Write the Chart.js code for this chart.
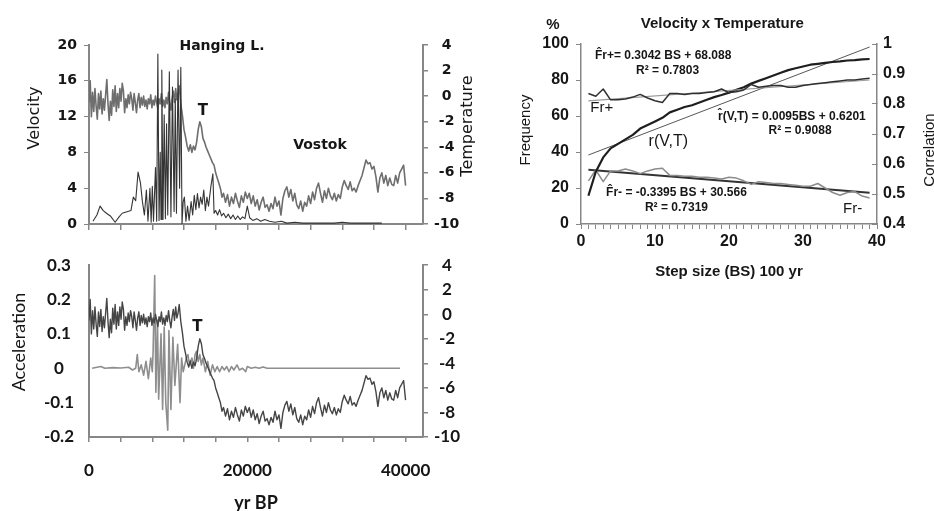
<!DOCTYPE html>
<html>
<head>
<meta charset="utf-8">
<script src="https://cdn.jsdelivr.net/npm/chart.js@4.4.1/dist/chart.umd.min.js"></script>
<style>
  html, body { margin: 0; padding: 0; background: #fff; width: 934px; height: 511px; overflow: hidden; }
  canvas { position: absolute; }
  #cA { left: 0; top: 0; }
  #cB { left: 0; top: 240px; }
  #cC { left: 520px; top: 0; }
</style>
</head>
<body>
<canvas id="cA" width="480" height="240"></canvas>
<canvas id="cB" width="480" height="271"></canvas>
<canvas id="cC" width="430" height="300"></canvas>
<script>
// --- temperature record (yr BP, deg C), split by period ---
const holoceneYears = [0,150,300,450,600,750,900,1050,1200,1350,1500,1650,1800,1950,2100,2250,2400,2550,2700,2850,3000,3150,3300,3450,3600,3750,3900,4050,4200,4350,4500,4650,4800,4950,5100,5250,5400,5550,5700,5850,6000,6150,6300,6450,6600,6750,6900,7050,7200,7350,7500,7650,7800,7950,8100,8250,8400,8550,8700,8850,9000,9150,9300,9450,9600,9750,9900,10050,10200,10350,10500,10650,10800,10950,11100,11250,11400];
const holoceneTemp = [-0.5,1.2,-1.6,0.3,-1.2,0.6,-0.8,-1.8,0.2,-1.0,0.4,-1.4,-0.2,-1.1,0.1,1.3,-0.6,-1.9,-0.4,-1.5,0.5,-0.8,0.8,-1.2,0.2,-0.9,0.6,-0.4,1.0,0.4,-1.3,-0.2,-0.9,0.1,-0.6,0.3,-0.2,-1.1,0.2,-0.5,-1.3,-0.3,0.2,-0.9,-0.1,-0.7,0.0,-0.8,-0.3,-1.0,-0.2,-0.6,0.1,-0.9,-0.3,-0.7,0.0,-0.5,-1.0,-0.2,-0.6,0.2,-0.8,-0.3,-0.9,-0.1,-0.6,0.3,-0.5,-1.1,-0.2,0.4,-0.5,0.6,-0.3,0.1,0.8];
const deglacYears = [11600,11800,12000,12200,12400,12600,12800,13000,13200,13400,13600,13800,14000,14200,14400,14600,14800,15000,15200,15400,15600,15800,16000,16200,16400,16600,16800,17000];
const deglacTemp = [-0.6,-1.5,-2.6,-3.2,-3.9,-4.3,-3.8,-4.4,-3.9,-4.2,-3.6,-2.6,-2.0,-2.4,-3.3,-3.6,-4.0,-4.3,-4.6,-4.9,-5.2,-5.4,-6.0,-6.4,-6.8,-7.2,-7.9,-7.6];
const glacialYears = [17250,17500,17750,18000,18250,18500,18750,19000,19250,19500,19750,20000,20250,20500,20750,21000,21250,21500,21750,22000,22250,22500,22750,23000,23250,23500,23750,24000,24250,24500,24750,25000,25250,25500,25750,26000,26250,26500,26750,27000,27250,27500,27750,28000,28250,28500,28750,29000,29250,29500,29750,30000,30250,30500,30750,31000,31250,31500,31750,32000,32250,32500,32750,33000,33250,33500,33750,34000,34250,34500,34750,35000,35250,35500,35750,36000,36250,36500,36750,37000,37250,37500,37750,38000,38250,38500,38750,39000,39250,39500,39750,40000];
const glacialTemp = [-8.3,-7.7,-8.6,-7.9,-8.4,-7.6,-8.2,-8.7,-7.8,-8.3,-7.5,-8.0,-7.6,-8.4,-7.8,-8.6,-8.1,-8.9,-8.3,-7.9,-8.7,-8.5,-9.0,-8.4,-8.8,-7.9,-8.6,-8.2,-9.3,-8.0,-7.4,-7.1,-7.9,-7.3,-8.2,-7.6,-8.5,-8.8,-8.2,-9.0,-8.3,-8.6,-7.8,-8.4,-7.5,-8.1,-7.2,-6.8,-7.6,-8.3,-7.4,-8.0,-7.2,-7.8,-8.1,-7.6,-8.2,-7.7,-8.0,-7.1,-6.6,-7.0,-7.3,-6.7,-7.4,-7.2,-7.5,-7.0,-6.6,-6.2,-5.6,-5.0,-5.3,-5.2,-5.7,-5.5,-6.3,-7.5,-6.4,-6.0,-6.8,-6.2,-7.0,-6.4,-6.9,-7.0,-6.2,-6.8,-6.0,-5.7,-5.4,-7.0];

// --- velocity (top panel, left axis) ---
const velYears = [500,1000,1400,1800,2200,2700,3300,3800,4200,4900,5300,5600,5900,6200,6500,6750,7000,7250,7450,7700,7850,8000,8150,8400,8550,8700,8850,9000,9100,9200,9350,9500,9650,9800,9950,10150,10350,10550,10750,10900,11050,11250,11450,11600,11750,11900,12050,12250,12450,12650,12900,13100,13300,13500,13700,13900,14100,14300,14500,14700,14900,15100,15400,15650,15800,16000,16250,16500,16750,17000,17300,17600,17900,18200,18500,18800,19100,19400,19700,20000,20300,20700,21200,21700,22200,22800,23500,24300,25000,26000,27000,28000,29000,30000,31000,32000,33000,34000,35000,36000,37000];
const velValues = [0.3,1.0,2.0,1.5,1.2,0.9,0.2,0.8,1.2,1.4,1.5,3.0,2.6,5.8,4.6,2.5,1.0,3.8,0.3,4.0,0.2,4.2,0.3,6.3,0.3,19.0,0.4,8.0,0.5,17.2,0.5,12.2,0.6,11.2,1.0,17.0,0.8,15.3,1.4,14.0,1.2,17.2,4.0,17.5,0.0,2.5,3.0,0.3,2.0,0.4,2.5,1.0,3.2,1.6,3.4,1.8,3.0,2.2,3.8,1.5,3.0,2.0,4.2,5.6,1.2,1.5,1.0,1.6,0.9,1.2,0.7,1.1,0.6,1.0,0.5,0.9,0.5,0.8,0.6,2.0,0.7,0.4,0.6,0.3,0.5,0.3,0.2,0.3,0.1,0.2,0.1,0.1,0.1,0.1,0.1,0.2,0.1,0.1,0.1,0.1,0.1];

// --- acceleration (bottom panel, left axis) ---
const accYears = [400,1000,1500,2000,3000,4000,5000,5500,5900,6100,6300,6600,6900,7200,7500,7800,8000,8100,8300,8450,8650,8800,9100,9300,9500,9700,9950,10100,10350,10600,10850,11200,11500,11700,11900,12100,12300,12500,12700,13000,13200,13400,13600,13800,14000,14200,14400,14700,15000,15300,15600,15900,16200,16500,16800,17100,17400,17700,18000,18300,18700,19000,19400,19800,20000,20500,21000,21500,22000,22500,39300];
const accValues = [0,0.003,0.005,0,0.002,0.001,0.003,-0.005,0,0.04,-0.01,0.01,-0.02,0.02,-0.03,0.03,-0.01,0.05,0.27,-0.07,0.14,-0.09,0.1,-0.12,0.12,-0.1,-0.18,0.11,-0.12,0.09,-0.05,0.07,-0.1,0.03,-0.01,0.01,0.03,0.04,0.01,0.03,0,0.04,0.05,0.02,0.04,0.01,0.03,-0.01,0.02,-0.02,0.01,-0.01,0.005,-0.01,0.005,-0.005,0.005,-0.01,0.005,-0.005,0.01,-0.005,0,-0.01,0.005,0,0.003,0,0.004,0,0];

// year axis tick marks and the labelled ones
const yearTicks = [0,4000,8000,12000,16000,20000,24000,28000,32000,36000,40000];
const yearLabels = [0,20000,40000];

// --- right panel: step size BS (100 yr) ---
const stepBS = [1,2,3,4,5,6,7,8,9,10,11,12,13,14,15,16,17,18,19,20,21,22,23,24,25,26,27,28,29,30,31,32,33,34,35,36,37,38,39];
const frPlus = [72.5,71,75,69,69,69.5,70.5,72,70,68.5,67.5,72.5,72.5,72,72.5,72.5,73,73.5,75,73,73.5,74.5,77.5,76,76.5,77,77,76,76,77,77.5,78,78.5,79,79.5,80,80,80.5,81];
const frMinus = [24,30,23.5,29.5,29.5,30.5,29.5,28,29.5,30.5,31,27,27,26.5,26.5,26,26,25.5,25,26,25.5,24,22,23.5,23,22.5,22.5,22,21.5,21,21,22.5,20,17.5,16,17.5,18,15.5,14.5];
const rVT = [0.494,0.574,0.622,0.652,0.667,0.682,0.697,0.718,0.73,0.742,0.754,0.772,0.781,0.79,0.796,0.805,0.814,0.823,0.83,0.838,0.847,0.856,0.868,0.877,0.886,0.895,0.904,0.913,0.919,0.925,0.931,0.934,0.937,0.94,0.942,0.945,0.946,0.949,0.95];
const fitBS = [1, 39];
const frPlusFit = [68.4, 80.0];
const frMinusFit = [30.2, 17.3];
const rFit = [0.63, 0.99];

const tempYears = holoceneYears.concat(deglacYears, glacialYears);
const tempValues = holoceneTemp.concat(deglacTemp, glacialTemp);

const AXIS = '#878787';
const INK = '#161616';

function pts(xs, ys) {
  return xs.map((x, i) => ({ x: x, y: ys[i] }));
}

function line(data, axis, color, width) {
  return { data: data, yAxisID: axis, borderColor: color, borderWidth: width,
           pointRadius: 0, tension: 0, fill: false, borderJoinStyle: 'round' };
}

// free text: either anchored in data units (yAxis set) or in canvas pixels
function notes(items) {
  return {
    id: 'notes',
    afterDatasetsDraw(chart) {
      const ctx = chart.ctx;
      items.forEach(it => {
        let px = it.px, py = it.py;
        if (it.yAxis) {
          px = chart.scales.x.getPixelForValue(it.x);
          py = chart.scales[it.yAxis].getPixelForValue(it.y);
        }
        ctx.save();
        ctx.translate(px, py);
        if (it.rot) ctx.rotate(it.rot * Math.PI / 180);
        ctx.font = it.font;
        ctx.fillStyle = INK;
        ctx.textAlign = 'center';
        ctx.textBaseline = 'middle';
        ctx.fillText(it.text, 0, 0);
        ctx.restore();
      });
    }
  };
}

const yearTickList = s => { s.ticks = yearTicks.map(v => ({ value: v })); };

const dvBold = { family: "'DejaVu Sans', sans-serif", weight: 'bold', size: 14 };
const latoBold = { family: "Lato, sans-serif", weight: 'bold', size: 17 };
const arBold = { family: "'Liberation Sans', Arial, sans-serif", weight: 'bold', size: 16 };

const base = {
  responsive: false,
  animation: false,
  events: [],
  plugins: { legend: { display: false }, tooltip: { enabled: false } }
};

// ---------- top left: velocity + temperature ----------
new Chart(document.getElementById('cA'), {
  type: 'line',
  data: {
    datasets: [
      line(pts(velYears, velValues), 'yV', '#353535', 1.1),
      line(pts(tempYears, tempValues), 'yT', '#6e6e6e', 1.6)
    ]
  },
  options: Object.assign({}, base, {
    layout: { padding: { left: 27, top: 45, right: 4, bottom: 6 } },
    scales: {
      x: {
        type: 'linear', min: 0, max: 42200,
        afterBuildTicks: yearTickList,
        afterFit: s => { s.height = 10; },
        ticks: { display: false, autoSkip: false },
        grid: { drawOnChartArea: false, tickLength: 6, color: AXIS, lineWidth: 1.5 },
        border: { color: AXIS, width: 2 }
      },
      yV: {
        position: 'left', min: 0, max: 20,
        afterFit: s => { s.width = 62; },
        ticks: { stepSize: 2, padding: 7, color: INK, font: dvBold,
                 callback: v => (Math.round(v) % 4 === 0 ? String(Math.round(v)) : '') },
        grid: { drawOnChartArea: false, tickLength: 5, color: AXIS, lineWidth: 1 },
        border: { color: AXIS, width: 2 }
      },
      yT: {
        position: 'right', min: -10, max: 4,
        afterFit: s => { s.width = 53; },
        ticks: { stepSize: 2, padding: 6, crossAlign: 'center', color: INK, font: dvBold },
        grid: { drawOnChartArea: false, tickLength: 5, color: AXIS, lineWidth: 1.5 },
        border: { color: AXIS, width: 2 }
      }
    }
  }),
  plugins: [notes([
    { text: 'Hanging L.', x: 16800, y: 19.8, yAxis: 'yV', font: "bold 14px 'DejaVu Sans'" },
    { text: 'T', x: 14400, y: 12.6, yAxis: 'yV', font: "bold 15px 'DejaVu Sans'" },
    { text: 'Vostok', x: 29180, y: 8.8, yAxis: 'yV', font: "bold 14px 'DejaVu Sans'" },
    { text: 'Velocity', px: 35, py: 118, rot: -90, font: "16px 'DejaVu Sans'" },
    { text: 'Temperature', px: 468, py: 126, rot: -90, font: "16px 'DejaVu Sans'" }
  ])]
});

// ---------- bottom left: acceleration + temperature ----------
new Chart(document.getElementById('cB'), {
  type: 'line',
  data: {
    datasets: [
      line(pts(tempYears, tempValues), 'yT', '#454545', 1.4),
      line(pts(accYears, accValues), 'yA', '#8e8e8e', 1.6)
    ]
  },
  options: Object.assign({}, base, {
    layout: { padding: { left: 10, top: 12, right: 0, bottom: 0 } },
    scales: {
      x: {
        type: 'linear', min: 0, max: 42200,
        afterBuildTicks: yearTickList,
        afterFit: s => { s.height = 74; },
        ticks: { autoSkip: false, maxRotation: 0, minRotation: 0,
                 padding: 18, color: INK, font: latoBold,
                 callback: v => (yearLabels.includes(Math.round(v)) ? String(Math.round(v)) : '') },
        grid: { drawOnChartArea: false, tickLength: 5, color: AXIS, lineWidth: 1.5 },
        border: { color: AXIS, width: 2 },
        title: { display: true, text: 'yr BP', color: INK,
                 font: { family: 'Lato, sans-serif', weight: 'bold', size: 18, lineHeight: 1 },
                 padding: { top: 0, bottom: -1.5 } }
      },
      yA: {
        position: 'left', min: -0.2, max: 0.3,
        afterFit: s => { s.width = 79; },
        ticks: { stepSize: 0.1, padding: 15, crossAlign: 'center', color: INK, font: latoBold,
                 callback: v => String(Math.round(v * 10) / 10) },
        grid: { drawOnChartArea: false, drawTicks: false, color: AXIS },
        border: { color: AXIS, width: 2 }
      },
      yT: {
        position: 'right', min: -10, max: 4,
        afterFit: s => { s.width = 57; },
        ticks: { stepSize: 2, padding: 6, crossAlign: 'center', color: INK, font: latoBold },
        grid: { drawOnChartArea: false, tickLength: 5, color: AXIS, lineWidth: 1.5 },
        border: { color: AXIS, width: 2 }
      }
    }
  }),
  plugins: [notes([
    { text: 'T', x: 13700, y: 0.12, yAxis: 'yA', font: "bold 15px 'DejaVu Sans'" },
    { text: 'Acceleration', px: 19, py: 102, rot: -90, font: "18px Lato" }
  ])]
});

// ---------- right: velocity x temperature ----------
new Chart(document.getElementById('cC'), {
  type: 'line',
  data: {
    datasets: [
      line(pts(stepBS, frPlus), 'yF', '#303030', 1.5),
      line(pts(fitBS, frPlusFit), 'yF', '#9a9a9a', 1.2),
      line(pts(stepBS, rVT), 'yC', '#1e1e1e', 2.2),
      line(pts(fitBS, rFit), 'yC', '#444444', 0.9),
      line(pts(stepBS, frMinus), 'yF', '#8c8c8c', 1.5),
      line(pts(fitBS, frMinusFit), 'yF', '#333333', 2)
    ]
  },
  options: Object.assign({}, base, {
    layout: { padding: { left: 0, top: 44, right: 13.5, bottom: 20.5 } },
    scales: {
      x: {
        type: 'linear', min: 0, max: 40,
        afterFit: s => { s.height = 55.5; },
        ticks: { stepSize: 1, autoSkip: false, maxRotation: 0, minRotation: 0,
                 padding: 3.4, color: INK, font: arBold,
                 callback: v => (Math.round(v) % 10 === 0 ? String(Math.round(v)) : '') },
        grid: { drawOnChartArea: false, tickLength: 5, color: AXIS, lineWidth: 1 },
        border: { color: AXIS, width: 1.5 },
        title: { display: true, text: 'Step size (BS) 100 yr', color: INK,
                 font: { family: "'Liberation Sans', Arial, sans-serif", weight: 'bold', size: 15, lineHeight: 1 },
                 padding: { top: 0, bottom: 0 } }
      },
      yF: {
        position: 'left', min: 0, max: 100,
        afterFit: s => { s.width = 61; },
        ticks: { stepSize: 10, padding: 7, color: INK, font: arBold,
                 callback: v => (Math.round(v) % 20 === 0 ? String(Math.round(v)) : '') },
        grid: { drawOnChartArea: false, tickLength: 5, color: AXIS, lineWidth: 1 },
        border: { color: AXIS, width: 1.5 }
      },
      yC: {
        position: 'right', min: 0.4, max: 1,
        afterFit: s => { s.width = 59.5; },
        ticks: { stepSize: 0.05, padding: 11, color: INK, font: arBold,
                 callback: v => (Math.round(v * 100) % 10 === 0 ? String(Math.round(v * 10) / 10) : '') },
        grid: { drawOnChartArea: false, tickLength: -5, color: AXIS, lineWidth: 1 },
        border: { color: AXIS, width: 1.5 }
      }
    }
  }),
  plugins: [notes([
    { text: '%', x: -3.8, y: 110.6, yAxis: 'yF', font: "bold 15px 'Liberation Sans'" },
    { text: 'Velocity x Temperature', x: 19.1, y: 111.2, yAxis: 'yF', font: "bold 15px 'Liberation Sans'" },
    { text: 'F\u0302r+= 0.3042 BS + 68.088', x: 11.1, y: 93.3, yAxis: 'yF', font: "bold 12px 'Liberation Sans'" },
    { text: 'R\u00b2 = 0.7803', x: 11.7, y: 85, yAxis: 'yF', font: "bold 12px 'Liberation Sans'" },
    { text: 'Fr+', x: 2.8, y: 64.4, yAxis: 'yF', font: "15px 'Liberation Sans'" },
    { text: 'r(V,T)', x: 11.8, y: 45.6, yAxis: 'yF', font: "16px 'Liberation Sans'" },
    { text: 'r\u0302(V,T) = 0.0095BS + 0.6201', x: 28.5, y: 59.4, yAxis: 'yF', font: "bold 12px 'Liberation Sans'" },
    { text: 'R\u00b2 = 0.9088', x: 29.6, y: 51.7, yAxis: 'yF', font: "bold 12px 'Liberation Sans'" },
    { text: 'F\u0302r- = -0.3395 BS + 30.566', x: 12.9, y: 17.2, yAxis: 'yF', font: "bold 12px 'Liberation Sans'" },
    { text: 'R\u00b2 = 0.7319', x: 12.9, y: 8.9, yAxis: 'yF', font: "bold 12px 'Liberation Sans'" },
    { text: 'Fr-', x: 36.7, y: 8.3, yAxis: 'yF', font: "15px 'Liberation Sans'" },
    { text: 'Frequency', px: 6, py: 130, rot: -90, font: "15px 'Liberation Sans'" },
    { text: 'Correlation', px: 410, py: 150, rot: -90, font: "15px 'Liberation Sans'" }
  ])]
});
</script>
</body>
</html>
